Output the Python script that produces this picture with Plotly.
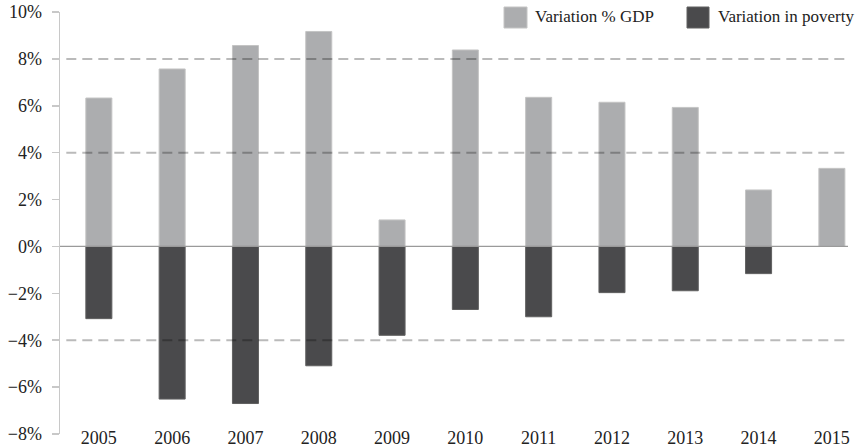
import plotly.graph_objects as go

years = ["2005", "2006", "2007", "2008", "2009", "2010", "2011", "2012", "2013", "2014", "2015"]
gdp_variation = [6.33, 7.57, 8.57, 9.17, 1.13, 8.38, 6.36, 6.15, 5.93, 2.41, 3.33]
poverty_variation = [-3.08, -6.51, -6.70, -5.09, -3.79, -2.69, -3.00, -1.97, -1.89, -1.16, None]
y_tickvals = [-8, -6, -4, -2, 0, 2, 4, 6, 8, 10]
y_ticktext = ["\u22128%", "\u22126%", "\u22124%", "\u22122%", "0%", "2%", "4%", "6%", "8%", "10%"]
dashed_grid = [8, 4, -4]
series_names = ["Variation % GDP", "Variation in poverty"]

FONT = "'Liberation Serif'"
GDP_COLOR = "#acadaf"
POV_COLOR = "#4a4a4c"

fig_w, fig_h = 863, 448
L, R, T, B = 60, 15, 12, 14

fig = go.Figure()
fig.add_trace(go.Bar(x=years, y=gdp_variation, name=series_names[0], width=0.355,
                     marker=dict(color=GDP_COLOR, line=dict(color="#c4c4c4", width=1))))
fig.add_trace(go.Bar(x=years, y=poverty_variation, name=series_names[1], width=0.355,
                     marker=dict(color=POV_COLOR, line=dict(color="#606060", width=1))))

shapes = []
for g in dashed_grid:
    shapes.append(dict(type="line", xref="paper", x0=0.008, x1=1, yref="y", y0=g, y1=g,
                       line=dict(color="rgba(0,0,0,0.27)", width=2, dash="10px,6px"), layer="above"))
# zero line
shapes.append(dict(type="line", xref="paper", x0=0, x1=1, yref="y", y0=0, y1=0,
                   line=dict(color="#9a9a9a", width=1.2), layer="above"))

# custom legend (pixel positions converted to paper coords)
W = fig_w - L - R
H = fig_h - T - B
def px(x): return (x - L) / W
def py(y): return (fig_h - B - y) / H
shapes.append(dict(type="rect", xref="paper", yref="paper", x0=px(504), x1=px(527), y0=py(28), y1=py(7),
                   fillcolor=GDP_COLOR, line=dict(color="#c4c4c4", width=1)))
shapes.append(dict(type="rect", xref="paper", yref="paper", x0=px(687), x1=px(709), y0=py(28), y1=py(7),
                   fillcolor=POV_COLOR, line=dict(color="#606060", width=1)))
annotations = [
    dict(text=series_names[0], xref="paper", yref="paper", x=px(533), y=py(17), xanchor="left",
         yanchor="middle", showarrow=False, font=dict(family=FONT, size=17, color="#222222")),
    dict(text=series_names[1], xref="paper", yref="paper", x=px(716), y=py(17), xanchor="left",
         yanchor="middle", showarrow=False, font=dict(family=FONT, size=17, color="#222222")),
]

fig.update_layout(
    width=fig_w, height=fig_h,
    margin=dict(l=L, r=R, t=T, b=B, autoexpand=False),
    paper_bgcolor="white", plot_bgcolor="white",
    barmode="overlay", showlegend=False,
    shapes=shapes, annotations=annotations,
    font=dict(family=FONT, color="#222222"),
)
fig.update_xaxes(type="category", range=[-0.53, 10.22], showgrid=False, zeroline=False,
                 showline=False, ticks="", tickfont=dict(family=FONT, size=18, color="#222222"),
                 ticklabelstandoff=-9, automargin=False, ticklabeloverflow="allow")
fig.update_yaxes(range=[-8, 10], tickvals=y_tickvals, ticktext=y_ticktext, showgrid=False,
                 zeroline=False, showline=True, linecolor="#c8c8c8", linewidth=1.5,
                 ticks="outside", ticklen=7, tickcolor="#c8c8c8", tickwidth=1.5,
                 tickfont=dict(family=FONT, size=18, color="#222222"), ticklabelstandoff=6,
                 automargin=False, ticklabeloverflow="allow")

fig.write_html("out.html",
               config={"displayModeBar": False, "staticPlot": True},
               post_script="document.body.style.margin='0';document.body.style.overflow='hidden';")
